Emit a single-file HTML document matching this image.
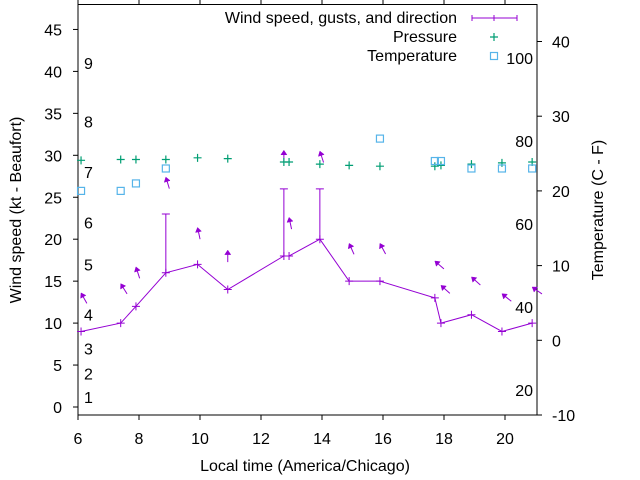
<!DOCTYPE html>
<html><head><meta charset="utf-8"><style>
html,body{margin:0;padding:0;background:#fff}
svg{display:block;font-family:"Liberation Sans",sans-serif}
</style></head><body>
<svg id="c" width="640" height="480" viewBox="0 0 640 480">
<g id="g"></g>
</svg>
<script>
// ---- data ----
const times = [6.1, 7.4, 7.9, 8.88, 9.92, 10.91, 12.75, 12.92, 13.93, 14.89, 15.9, 17.7, 17.9, 18.9, 19.9, 20.89];
const windSpeed = [9, 10, 12, 16, 17, 14, 18, 18, 20, 15, 15, 13, 10, 11, 9, 10];
const gustTimes = [8.88, 12.75, 13.93];
const gustBase = [16, 18, 20];
const gustValues = [23, 26, 26];
const arrowY = [13.6, 14.7, 16.7, 27.4, 21.4, 18.7, 30.6, 22.6, 30.5, 19.5, 19.5, 17.4, 14.5, 15.5, 13.5, 14.3];
const arrowAngle = [-29, -32, -18, -17, -12, 0, 0, -12, -18, -24, -28, -49, -48, -48, -51, -55];
const pressure = [29.4, 29.5, 29.5, 29.5, 29.7, 29.6, 29.2, 29.2, 28.95, 28.8, 28.7, 28.7, 28.8, 28.95, 29.1, 29.2];
const tempTimes = [6.1, 7.4, 7.9, 8.88, 15.9, 17.7, 17.9, 18.9, 19.9, 20.89];
const tempC = [20, 20, 21, 23, 27, 24, 24, 23, 23, 23];
const xTicks = [6, 8, 10, 12, 14, 16, 18, 20];
const yTicks = [0, 5, 10, 15, 20, 25, 30, 35, 40, 45];
const y2Ticks = [-10, 0, 10, 20, 30, 40];
const beaufortLabels = ["1","2","3","4","5","6","7","8","9"];
const beaufortKt = [1.2, 4, 7, 11, 17, 22, 28, 34, 41];
const fahrLabels = [20, 40, 60, 80, 100];

// ---- axes ----
const L=78,R=537,T=4.5,B=415;
const X = t => L + (t-6)*30.5;
const Y = v => 407 - v*8.39;
const Y2 = c => 415 - (c+10)*7.47;
const NS="http://www.w3.org/2000/svg";
const g=document.getElementById('g');
const FS=16;
function mk(tag,attrs,parent){const e=document.createElementNS(NS,tag);for(const k in attrs)e.setAttribute(k,attrs[k]);(parent||g).appendChild(e);return e;}
function txt(s,x,y,anchor,size,name){const e=mk('text',{x:x,y:y,'text-anchor':anchor,'font-size':size||FS,fill:'#000'});e.textContent=s;


return e;}

const frame=mk('rect',{x:L,y:T,width:R-L,height:B-T,fill:'none',stroke:'#000','stroke-width':1});



xTicks.forEach(t=>{
  const x=X(t);
  const tk=mk('path',{d:`M${x},${B}v5M${x},${T}v-5`,stroke:'#000'});
  
  
  txt(String(t),x,444,'middle',FS,'x-tick-label');
});
yTicks.forEach(v=>{
  const y=Y(v);
  const tk=mk('path',{d:`M${L},${y}h-5`,stroke:'#000'});
  
  
  txt(String(v),62,y+6,'end',FS,'y-tick-label');
});
y2Ticks.forEach(c=>{
  const y=Y2(c);
  const tk=mk('path',{d:`M${R},${y}h5`,stroke:'#000'});
  
  
  txt(String(c),552,y+6,'start',FS,'y2-tick-label');
});
beaufortLabels.forEach((s,i)=>{ txt(s,84,Y(beaufortKt[i])+6,'start',FS,'beaufort-label'); });
fahrLabels.forEach(f=>{ txt(String(f),533,Y2((f-32)*5/9)+6,'end',FS,'fahrenheit-label'); });

txt('Local time (America/Chicago)',305,471,'middle',FS,'x-axis-title');
const yt=txt('Wind speed (kt - Beaufort)',0,0,'middle',FS,'y-axis-title');
yt.setAttribute('transform','translate(21,210) rotate(-90)');
const y2t=txt('Temperature (C - F)',0,0,'middle',FS,'y2-axis-title');
y2t.setAttribute('transform','translate(603,210) rotate(-90)');

const P='#9400d3', G='#009e73', C='#56b4e9';
// wind line
const wl=mk('polyline',{points:times.map((t,i)=>X(t)+','+Y(windSpeed[i])).join(' '),fill:'none',stroke:P,'stroke-width':1});


times.forEach((t,i)=>{
  const x=X(t),y=Y(windSpeed[i]);
  const p=mk('path',{d:`M${x-4},${y}h8M${x},${y-4}v8`,stroke:P});
  
  
});
gustTimes.forEach((t,i)=>{
  const x=X(t),y0=Y(gustBase[i]),y1=Y(gustValues[i]);
  const p=mk('path',{d:`M${x},${y0}V${y1}M${x-4},${y1}h8`,stroke:P});
  
  
});
// direction arrows
times.forEach((t,i)=>{
  const x=X(t),y=Y(arrowY[i]);
  const a=arrowAngle[i]*Math.PI/180;
  const ux=Math.sin(a),uy=-Math.cos(a);
  const len=12,hl=4.5,hw=3;
  const tx=x-ux*len,ty=y-uy*len;
  const bx=x-ux*hl,by=y-uy*hl;
  const grp=mk('g',{});
  
  
  mk('path',{d:`M${tx},${ty}L${bx},${by}`,stroke:P,'stroke-width':1},grp);
  mk('path',{d:`M${x},${y}L${bx-uy*hw},${by+ux*hw}L${bx+uy*hw},${by-ux*hw}Z`,fill:P,stroke:P,'stroke-width':0.5},grp);
});
// pressure
times.forEach((t,i)=>{
  const x=X(t),y=Y(pressure[i]);
  const p=mk('path',{d:`M${x-4},${y}h8M${x},${y-4}v8`,stroke:G,'stroke-width':1.2});
  
  
});
// temperature
tempTimes.forEach((t,i)=>{
  const x=X(t),y=Y2(tempC[i]);
  const r=mk('rect',{x:x-3.5,y:y-3.5,width:7,height:7,fill:'none',stroke:C,'stroke-width':1.2});
  
  
});
// legend
const lg=mk('g',{});


txt('Wind speed, gusts, and direction',457,23,'end',FS,'legend-wind-label');
txt('Pressure',457,42,'end',FS,'legend-pressure-label');
txt('Temperature',457,61,'end',FS,'legend-temperature-label');
const s1=mk('path',{d:'M472,18H517M472,15v6M494,15v6M517,15v6',stroke:P},lg);


const s2=mk('path',{d:'M490,37h8M494,33v8',stroke:G,'stroke-width':1.2},lg);


const s3=mk('rect',{x:490.5,y:52.5,width:7,height:7,fill:'none',stroke:C,'stroke-width':1.2},lg);


</script>
</body></html>
